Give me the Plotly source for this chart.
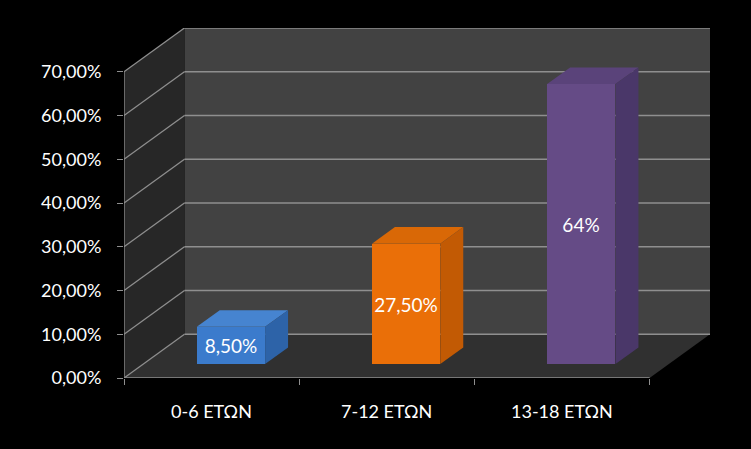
import plotly.graph_objects as go

# ---- data ----
categories = ["0-6 ΕΤΩΝ", "7-12 ΕΤΩΝ", "13-18 ΕΤΩΝ"]
values = [8.5, 27.5, 64.0]
value_labels = ["8,50%", "27,50%", "64%"]
y_ticks = [0, 10, 20, 30, 40, 50, 60, 70]
y_tick_labels = ["0,00%", "10,00%", "20,00%", "30,00%", "40,00%", "50,00%", "60,00%", "70,00%"]

# ---- style / pseudo-3D geometry ----
front_colors = ["#3b7bcc", "#ea6f08", "#654b86"]
top_colors = ["#4684d0", "#d96806", "#5a437a"]
side_colors = ["#2d63a8", "#c25a04", "#4a3769"]
DX, DY = 0.345, 10.0        # depth offset (x units, y units)
F1, F2 = 0.32, 0.70         # bar depth position (front, back) as fraction of depth
BW = 0.39                   # bar width in category units
YMAX = y_ticks[-1]
N = len(categories)
GRID = "#8f8f8f"
FONT = "Lato, 'Open Sans', sans-serif"

fig = go.Figure()

# bar front faces
xs = [i + 0.5 + F1 * DX for i in range(N)]
fig.add_trace(go.Bar(
    x=xs, y=values, base=[F1 * DY] * N, width=[BW] * N,
    marker=dict(color=front_colors, line=dict(width=0)),
    text=value_labels, textposition="inside", insidetextanchor="middle",
    constraintext="none", textangle=0,
    textfont=dict(family=FONT, size=19, color="#ffffff"),
    hoverinfo="skip", showlegend=False,
))

d = F2 - F1
for i, v in enumerate(values):
    x0 = xs[i] - BW / 2
    x1 = xs[i] + BW / 2
    b = F1 * DY
    t = b + v
    # top face
    fig.add_trace(go.Scatter(
        x=[x0, x1, x1 + d * DX, x0 + d * DX, x0],
        y=[t, t, t + d * DY, t + d * DY, t],
        fill="toself", fillcolor=top_colors[i], mode="lines",
        line=dict(width=0, color=top_colors[i]), hoverinfo="skip", showlegend=False))
    # side face
    fig.add_trace(go.Scatter(
        x=[x1, x1, x1 + d * DX, x1 + d * DX, x1],
        y=[b, t, t + d * DY, b + d * DY, b],
        fill="toself", fillcolor=side_colors[i], mode="lines",
        line=dict(width=0, color=side_colors[i]), hoverinfo="skip", showlegend=False))

shapes = []
# back wall
shapes.append(dict(type="rect", xref="x", yref="y", x0=DX, x1=N + DX, y0=DY, y1=YMAX + DY,
                   fillcolor="#424242", line=dict(width=0), layer="below"))
# side wall
shapes.append(dict(type="path", xref="x", yref="y",
                   path=f"M0,0 L0,{YMAX} L{DX},{YMAX + DY} L{DX},{DY} Z",
                   fillcolor="#272727", line=dict(width=0), layer="below"))
# floor
shapes.append(dict(type="path", xref="x", yref="y",
                   path=f"M0,0 L{N},0 L{N + DX},{DY} L{DX},{DY} Z",
                   fillcolor="#303030", line=dict(width=0), layer="below"))
# gridlines
for v in y_ticks:
    shapes.append(dict(type="line", xref="x", yref="y", x0=DX, x1=N + DX, y0=v + DY, y1=v + DY,
                       line=dict(color=GRID, width=1.3), layer="below"))
    shapes.append(dict(type="line", xref="x", yref="y", x0=0, x1=DX, y0=v, y1=v + DY,
                       line=dict(color=GRID, width=1.3), layer="below"))
# front axes
shapes.append(dict(type="line", xref="x", yref="y", x0=0, x1=0, y0=0, y1=YMAX,
                   line=dict(color=GRID, width=1.3), layer="below"))
shapes.append(dict(type="line", xref="x", yref="y", x0=0, x1=N, y0=0, y1=0,
                   line=dict(color=GRID, width=1.3), layer="below"))

annotations = [dict(x=i + 0.5, y=0, xref="x", yref="y", yshift=-33, text=c, showarrow=False,
                    font=dict(family=FONT, size=18, color="#ffffff"))
               for i, c in enumerate(categories)]

fig.update_layout(
    width=751, height=449,
    margin=dict(l=124, r=41, t=28, b=71),
    paper_bgcolor="#000000", plot_bgcolor="#000000",
    shapes=shapes, annotations=annotations,
    xaxis=dict(range=[0, N + DX], tickvals=list(range(N + 1)), ticktext=[""] * (N + 1),
               ticks="outside", ticklen=6, tickcolor=GRID, tickwidth=1.3,
               showgrid=False, zeroline=False, showline=False, fixedrange=True),
    yaxis=dict(range=[0, YMAX + DY], tickvals=y_ticks, ticktext=y_tick_labels,
               ticks="outside", ticklen=6, tickcolor=GRID, tickwidth=1.3,
               ticklabelstandoff=12,
               tickfont=dict(family=FONT, size=18, color="#ffffff"),
               showgrid=False, zeroline=False, showline=False, fixedrange=True),
    bargap=0,
)

fig.write_html(
    "out.html",
    config={"displayModeBar": False},
    post_script="document.body.style.margin='0';document.body.style.background='#000';"
                "document.body.style.overflow='hidden';",
)
